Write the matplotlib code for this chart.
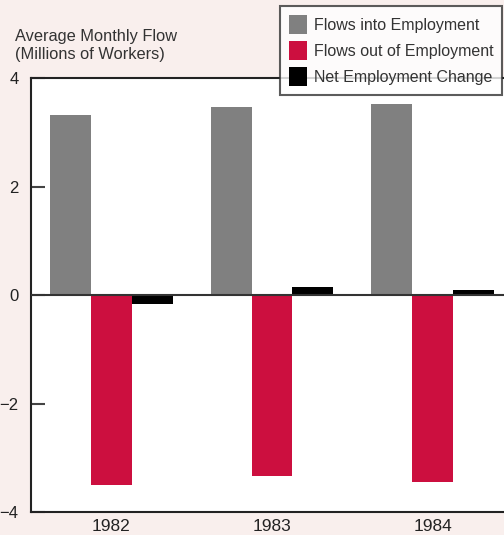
import numpy as np
import matplotlib
matplotlib.use('Agg')
import matplotlib.pyplot as plt

years = ['1982', '1983', '1984']
flows_in = [3.32, 3.47, 3.52]
flows_out = [-3.50, -3.34, -3.44]
net_change = [-0.17, 0.15, 0.10]

plt.rcParams['font.family'] = ['Liberation Sans', 'DejaVu Sans']

bg = '#f9efed'
fig = plt.figure(figsize=(5.04, 5.35), dpi=100, facecolor=bg)
ax = fig.add_axes([31/504, 23/535, 473/504, 434/535])
ax.set_facecolor('white')

x = np.arange(len(years))
w = 0.255
ax.bar(x - w, flows_in, w, color='#808080', label='Flows into Employment', zorder=2)
ax.bar(x, flows_out, w, color='#cc0f3f', label='Flows out of Employment', zorder=2)
ax.bar(x + w, net_change, w, color='black', label='Net Employment Change', zorder=2)

ax.axhline(0, color='#333333', lw=1.5, zorder=3)
ax.set_xlim(-0.5, 2.444)
ax.set_ylim(-4, 4)
ax.set_yticks([-4, -2, 0, 2, 4])
ax.set_yticklabels(['\u22124', '\u22122', '0', '2', '4'])
ax.set_xticks(x)
ax.set_xticklabels(years)
ax.tick_params(axis='y', direction='in', length=10, width=1.5, color='#444444',
               labelsize=12, labelcolor='#222222', pad=9)
ax.tick_params(axis='x', length=0, labelsize=12.5, labelcolor='#222222', pad=5)

for s in ['left', 'top', 'bottom']:
    ax.spines[s].set_color('#222222')
    ax.spines[s].set_linewidth(1.5)
ax.spines['right'].set_visible(False)

# axis title, two lines
fig.text(15/504, 1 - 41/535, 'Average Monthly Flow',
         fontsize=11.8, color='#333333', va='baseline', ha='left')
fig.text(15/504, 1 - 59/535, '(Millions of Workers)',
         fontsize=11.8, color='#333333', va='baseline', ha='left')

leg = fig.legend(loc='upper right', bbox_to_anchor=(502/504, 1 - 6/535),
                 fontsize=11.5, frameon=True, fancybox=False, handlelength=1.15,
                 handleheight=1.5, labelspacing=0.4, handletextpad=0.4,
                 borderpad=0.55, borderaxespad=0)
leg.get_frame().set_edgecolor('#333333')
leg.get_frame().set_linewidth(1.5)
for t in leg.get_texts():
    t.set_color('#333333')

plt.savefig('out.png', dpi=100, facecolor=bg)
